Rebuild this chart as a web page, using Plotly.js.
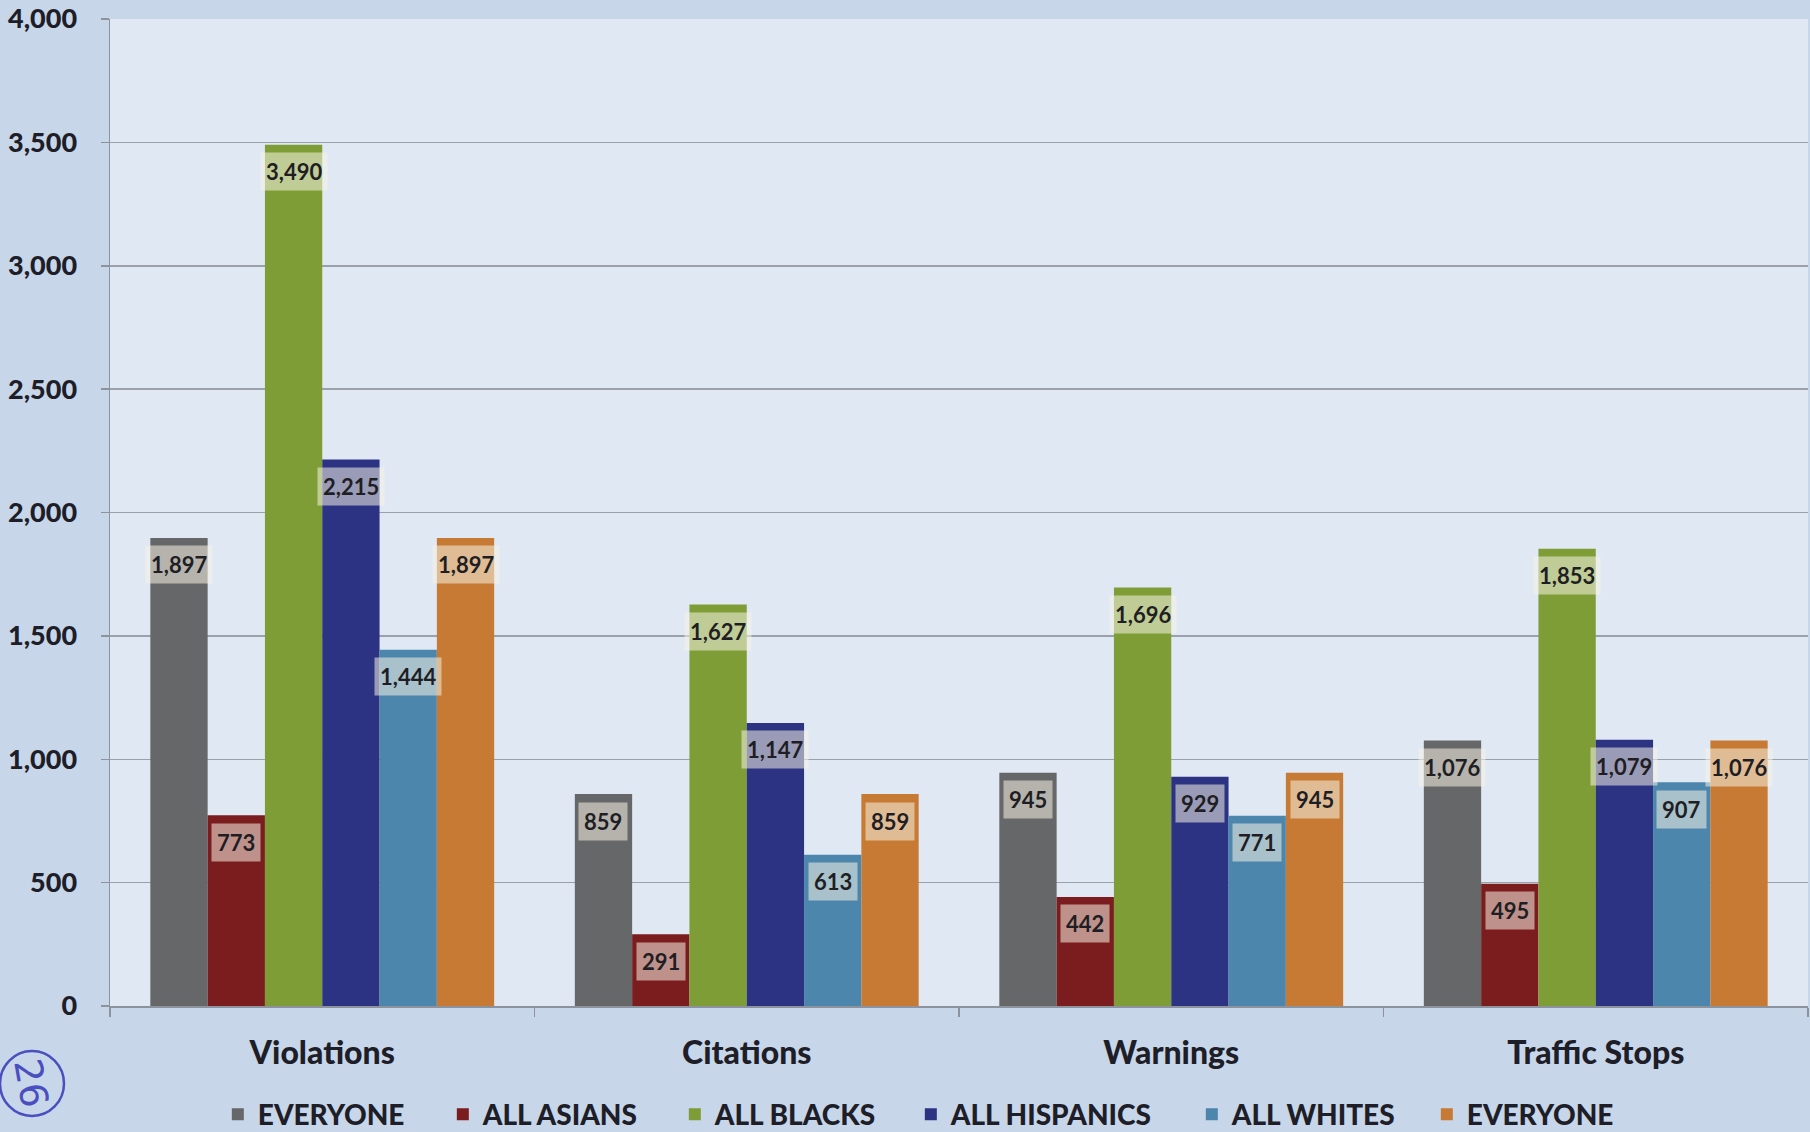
<!DOCTYPE html>
<html>
<head>
<meta charset="utf-8">
<script src="https://cdn.plot.ly/plotly-3.0.1.min.js"></script>
<style>
html,body{margin:0;padding:0;background:#c8d6ea;}
#chart{width:1810px;height:1132px;}
</style>
</head>
<body>
<div id="chart"></div>
<script>
const categories = ["Violations", "Citations", "Warnings", "Traffic Stops"];
const seriesNames = ["EVERYONE", "ALL ASIANS", "ALL BLACKS", "ALL HISPANICS", "ALL WHITES", "EVERYONE"];
const everyone = [1897, 859, 945, 1076];
const allAsians = [773, 291, 442, 495];
const allBlacks = [3490, 1627, 1696, 1853];
const allHispanics = [2215, 1147, 929, 1079];
const allWhites = [1444, 613, 771, 907];
const everyone2 = [1897, 859, 945, 1076];
const yTickVals = [0, 500, 1000, 1500, 2000, 2500, 3000, 3500, 4000];
const yTickText = ["0", "500", "1,000", "1,500", "2,000", "2,500", "3,000", "3,500", "4,000"];

const seriesValues = [everyone, allAsians, allBlacks, allHispanics, allWhites, everyone2];
const colors = ["#666769", "#7b1d1f", "#7f9d36", "#2c3382", "#4d86ac", "#c67a34"];
// legend entry widths (styling only)
const legendWidths = [180, 187, 191, 236, 190, 180];

const FONT = "Lato, 'Open Sans', sans-serif";
const bargap = 0.19;
const nSeries = seriesValues.length;
const bw = (1 - bargap) / nSeries;

const traces = seriesValues.map((vals, i) => ({
  type: "bar",
  name: seriesNames[i],
  x: categories,
  y: vals,
  marker: {color: colors[i], line: {width: 0}},
  legendwidth: legendWidths[i],
  hoverinfo: "skip"
}));

const fmt = v => v.toLocaleString("en-US");

const annotations = [];
seriesValues.forEach((vals, i) => {
  vals.forEach((v, c) => {
    annotations.push({
      xref: "x", yref: "y",
      x: c - (1 - bargap) / 2 + bw * (i + 0.5),
      y: v,
      yanchor: "middle",
      yshift: -27,
      text: "<b>" + fmt(v) + "</b>",
      showarrow: false,
      font: {family: FONT, size: 22, color: "#1e1e24"},
      bgcolor: "rgba(245,242,228,0.55)",
      borderpad: 5
    });
  });
});

annotations.push({
  xref: "paper", yref: "paper",
  x: (31 - 110) / 1698, y: -(1083 - 1006) / 987,
  xanchor: "center", yanchor: "middle",
  text: "26", textangle: 80, showarrow: false,
  font: {family: "DejaVu Sans", size: 38, color: "#4a4fbf"}
});

const layout = {
  width: 1810, height: 1132,
  paper_bgcolor: "#c8d6ea",
  plot_bgcolor: "#e0e8f4",
  margin: {l: 110, r: 2, t: 19, b: 126, autoexpand: false},
  barmode: "group",
  bargap: bargap,
  bargroupgap: 0,
  showlegend: true,
  legend: {
    orientation: "h",
    x: 0.0635, xanchor: "left",
    y: -0.11, yanchor: "middle",
    font: {family: FONT, size: 28, color: "#1e1e28", weight: 900},
    itemwidth: 30,
    bgcolor: "rgba(0,0,0,0)"
  },
  xaxis: {
    type: "category",
    tickson: "boundaries",
    ticks: "outside", ticklen: 9, tickcolor: "#8c939c", tickwidth: 1.5,
    showline: true, linecolor: "#8c939c", linewidth: 1.5,
    showgrid: false,
    automargin: false,
    tickfont: {family: FONT, size: 32, color: "#1e1e28", weight: 900},
    ticklabelstandoff: 18
  },
  yaxis: {
    range: [0, 4000],
    tickvals: yTickVals, ticktext: yTickText,
    ticks: "outside", ticklen: 8, tickcolor: "#8c939c", tickwidth: 1.5,
    showline: true, linecolor: "#8c939c", linewidth: 1.5,
    showgrid: true, gridcolor: "#9aa1aa", gridwidth: 1.5,
    zeroline: false,
    automargin: false,
    tickfont: {family: FONT, size: 27, color: "#1e1e28", weight: 900},
    ticklabelstandoff: 18
  },
  annotations: annotations,
  shapes: [{
    type: "circle", xref: "paper", yref: "paper",
    xsizemode: "pixel", ysizemode: "pixel",
    xanchor: 0, yanchor: 0,
    x0: -110, x1: -46, y0: -110, y1: -45,
    line: {color: "#4a4fbf", width: 2.5}
  }]
};

Plotly.newPlot("chart", traces, layout, {displayModeBar: false, staticPlot: true});
</script>
</body>
</html>
